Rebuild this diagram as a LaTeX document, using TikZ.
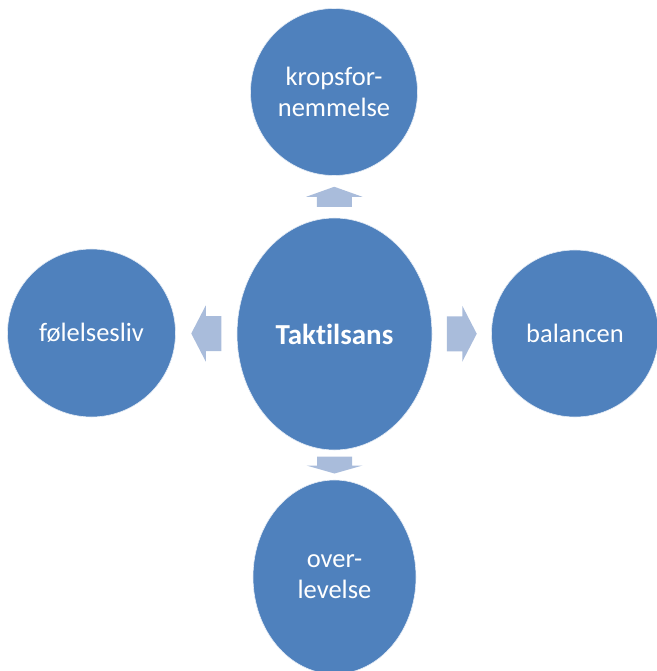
\documentclass[tikz,border=0pt]{standalone}
\usepackage{fontspec}
\setmainfont[Ligatures=NoCommon]{Carlito}
\usetikzlibrary{positioning,calc,shapes.geometric}
\definecolor{cDisc}{HTML}{4F81BD}
\definecolor{cArrow}{HTML}{A9BCDB}

% block arrow pointing along +x: #1 = total length, #2 = head length
\tikzset{
  pics/block/.style 2 args={code={
    \fill[cArrow] (-#1/2,-17.5) -- (#1/2-#2,-17.5) -- (#1/2-#2,-28) -- (#1/2,0)
      -- (#1/2-#2,28) -- (#1/2-#2,17.5) -- (-#1/2,17.5) -- cycle;
  }}
}

\begin{document}
\begin{tikzpicture}[
  x=1pt,y=-1pt,
  disc/.style={ellipse,fill=cDisc,draw=white!85!cDisc,line width=0.6pt,
               text=white,align=center,inner sep=0pt,
               font=\fontsize{26.5}{31}\selectfont},
  hub/.style={disc,font=\fontsize{29}{34}\selectfont\bfseries}
]
\useasboundingbox (0,0) rectangle (656,671);

\node[hub,minimum width=195,minimum height=232] (taktil) at (334.5,334) {Taktilsans};
\node[disc,minimum width=167,minimum height=167] (krop) at (334,92) {kropsfor-\\nemmelse};
\node[disc,minimum width=168,minimum height=168] (folelse) at (91.5,333) {følelsesliv};
\node[disc,minimum width=167,minimum height=167] (balance) at (575,333.5) {balancen};
\node[disc,minimum width=163,minimum height=194] (over) at (334.5,577) {over-\\levelse};

% block arrows between the hub and the four discs
\pic[rotate=90]  (aKrop)    at ($(taktil.north)!0.5!(krop.south)$)    {block={20}{10}};
\pic[rotate=180] (aFolelse) at ($(taktil.west)!0.5!(folelse.east)$)   {block={30}{14.5}};
\pic             (aBalance) at ($(taktil.east)!0.5!(balance.west)$)   {block={30}{14.5}};
\pic[rotate=-90] (aOver)    at ($(taktil.south)!0.5!(over.north)$)    {block={17}{8}};
\end{tikzpicture}
\end{document}
